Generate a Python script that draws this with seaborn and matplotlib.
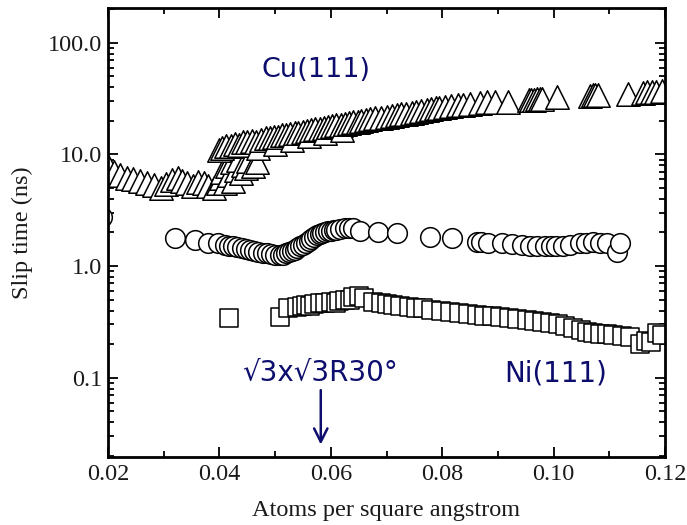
import matplotlib
matplotlib.use("Agg")
import matplotlib.pyplot as plt
import matplotlib.ticker as mticker
import seaborn as sns
import pandas as pd

# ---- data ----
cu_x = [0.0200, 0.0210, 0.0222, 0.0235, 0.0245, 0.0258, 0.0270, 0.0282, 0.0295, 0.0305,
        0.0315, 0.0325, 0.0333, 0.0342, 0.0352, 0.0362, 0.0372, 0.0380, 0.0390, 0.0398,
        0.0402, 0.0405, 0.0410, 0.0413, 0.0418, 0.0422, 0.0425, 0.0430, 0.0433, 0.0438,
        0.0442, 0.0447, 0.0452, 0.0460, 0.0468,
        0.0400, 0.0405, 0.0412, 0.0420, 0.0428, 0.0435, 0.0442, 0.0450, 0.0458, 0.0466,
        0.0470, 0.0475, 0.0483, 0.0490, 0.0498, 0.0500, 0.0505, 0.0512, 0.0520, 0.0527,
        0.0530, 0.0535, 0.0542, 0.0550, 0.0557, 0.0560, 0.0565, 0.0572, 0.0580, 0.0588,
        0.0590, 0.0595, 0.0603, 0.0610, 0.0618, 0.0620, 0.0625, 0.0633, 0.0640, 0.0648,
        0.0655, 0.0663, 0.0670, 0.0680, 0.0690, 0.0700, 0.0710, 0.0718, 0.0726, 0.0735,
        0.0745, 0.0753, 0.0762, 0.0772, 0.0780, 0.0788, 0.0795, 0.0805, 0.0815, 0.0828,
        0.0838, 0.0850, 0.0868, 0.0880, 0.0895, 0.0918, 0.0955, 0.0960, 0.0965, 0.0970,
        0.0975, 0.0980, 0.1006, 0.1065, 0.1070, 0.1075, 0.1080, 0.1134, 0.1160, 0.1168,
        0.1176, 0.1184, 0.1195]
cu_y = [7.8, 7.0, 6.5, 6.2, 6.0, 5.8, 5.6, 5.3, 5.0, 5.4,
        5.9, 6.2, 5.8, 5.5, 5.2, 5.7, 5.6, 5.2, 5.0, 5.5,
        6.2, 7.0, 5.5, 7.8, 6.5, 8.5, 5.8, 7.2, 9.0, 6.8,
        8.0, 7.5, 8.8, 7.8, 8.5,
        11.0, 11.5, 12.0, 11.8, 12.5, 12.2, 12.8, 13.0, 13.2, 13.0,
        11.5, 13.6, 13.9, 14.0, 14.4, 12.5, 14.2, 14.8, 15.0, 15.2,
        13.5, 15.6, 15.5, 16.0, 16.3, 14.5, 16.5, 16.8, 17.0, 17.4,
        15.5, 17.6, 17.8, 18.2, 18.5, 16.5, 18.7, 19.0, 19.4, 19.6,
        20.0, 20.3, 20.6, 21.0, 21.3, 21.8, 22.2, 22.5, 22.8, 23.2,
        23.6, 24.0, 24.5, 25.0, 25.3, 25.8, 26.0, 26.5, 27.0, 27.5,
        28.0, 28.5, 29.0, 29.3, 29.5, 29.6, 30.5, 30.8, 31.0, 31.2,
        31.4, 31.6, 32.8, 33.5, 33.8, 34.0, 34.2, 35.0, 35.5, 36.0,
        36.2, 36.5, 37.0]

circ_x = [0.0190, 0.0320, 0.0356, 0.0380, 0.0398, 0.0410, 0.0418, 0.0425, 0.0432, 0.0440,
          0.0447, 0.0455, 0.0462, 0.0470, 0.0478, 0.0485, 0.0492, 0.0500, 0.0508, 0.0515,
          0.0520, 0.0525, 0.0530, 0.0535, 0.0540, 0.0545, 0.0550, 0.0555, 0.0560, 0.0565,
          0.0570, 0.0575, 0.0580, 0.0585, 0.0590, 0.0595, 0.0600, 0.0605, 0.0610, 0.0617,
          0.0625, 0.0632, 0.0640, 0.0652, 0.0685, 0.0719, 0.0778, 0.0818, 0.0862, 0.0870,
          0.0882, 0.0907, 0.0925, 0.0943, 0.0958, 0.0970, 0.0985, 0.0995, 0.1005, 0.1017,
          0.1030, 0.1047, 0.1058, 0.1070, 0.1083, 0.1096, 0.1114, 0.1120]
circ_y = [2.75, 1.78, 1.72, 1.62, 1.60, 1.56, 1.52, 1.50, 1.47, 1.45,
          1.42, 1.40, 1.37, 1.35, 1.32, 1.30, 1.28, 1.27, 1.26, 1.27,
          1.30, 1.33, 1.36, 1.40, 1.45, 1.50, 1.55, 1.62, 1.68, 1.75,
          1.82, 1.88, 1.93, 1.97, 2.00, 2.05, 2.08, 2.10, 2.12, 2.15,
          2.18, 2.20, 2.20, 2.05, 2.00, 1.98, 1.84, 1.78, 1.66, 1.65,
          1.62, 1.60, 1.57, 1.55, 1.50, 1.52, 1.50, 1.50, 1.52, 1.52,
          1.55, 1.60, 1.62, 1.65, 1.62, 1.60, 1.33, 1.60]

ni_x = [0.0417, 0.0509, 0.0523, 0.0540, 0.0548, 0.0555, 0.0562, 0.0570, 0.0580, 0.0590,
        0.0600, 0.0610, 0.0615, 0.0625, 0.0635, 0.0640, 0.0650, 0.0660, 0.0676, 0.0690,
        0.0700, 0.0712, 0.0725, 0.0740, 0.0753, 0.0766, 0.0780, 0.0797, 0.0814, 0.0830,
        0.0846, 0.0862, 0.0875, 0.0890, 0.0904, 0.0920, 0.0935, 0.0952, 0.0965, 0.0980,
        0.0993, 0.1008, 0.1020, 0.1035, 0.1050, 0.1060, 0.1070, 0.1083, 0.1095, 0.1107,
        0.1122, 0.1137, 0.1155, 0.1165, 0.1175, 0.1185, 0.1195]
ni_y = [0.342, 0.350, 0.420, 0.430, 0.440, 0.450, 0.440, 0.460, 0.470, 0.470,
        0.480, 0.470, 0.490, 0.500, 0.500, 0.527, 0.540, 0.520, 0.475, 0.470,
        0.460, 0.447, 0.440, 0.430, 0.425, 0.420, 0.405, 0.395, 0.387, 0.380,
        0.370, 0.364, 0.360, 0.355, 0.350, 0.342, 0.335, 0.330, 0.322, 0.315,
        0.310, 0.300, 0.290, 0.278, 0.268, 0.258, 0.250, 0.248, 0.245, 0.240,
        0.235, 0.230, 0.200, 0.215, 0.210, 0.250, 0.240]

y_ticks = [0.1, 1.0, 10.0, 100.0]
y_tick_labels = ["0.1", "1.0", "10.0", "100.0"]
x_ticks = [0.02, 0.04, 0.06, 0.08, 0.10, 0.12]
x_tick_labels = ["0.02", "0.04", "0.06", "0.08", "0.10", "0.12"]

cu_df = pd.DataFrame({"x": cu_x, "y": cu_y})
circ_df = pd.DataFrame({"x": circ_x, "y": circ_y})
ni_df = pd.DataFrame({"x": ni_x, "y": ni_y})

sns.set_style("ticks")
plt.rcParams["font.family"] = ["Liberation Serif", "DejaVu Serif"]

fig = plt.figure(figsize=(6.87, 5.25), dpi=100)
ax = fig.add_axes([108/687, 1-457/525, (665-108)/687, (457-8)/525])

common = dict(ax=ax, x="x", y="y", color="white", edgecolor="black", linewidth=1.1, legend=False)
sns.scatterplot(data=circ_df, marker="o", s=200, **common)
sns.scatterplot(data=ni_df, marker="s", s=155, **common)
sns.scatterplot(data=cu_df, marker="^", s=285, **common)

ax.set_yscale("log")
ax.set_xlim(0.02, 0.12)
ax.set_ylim(0.0195, 205)
ax.set_xticks(x_ticks)
ax.set_xticklabels(x_tick_labels)
ax.xaxis.set_minor_locator(mticker.MultipleLocator(0.01))
ax.set_yticks(y_ticks)
ax.set_yticklabels(y_tick_labels)
ax.yaxis.set_minor_locator(mticker.LogLocator(base=10, subs=range(2, 10)))
ax.yaxis.set_minor_formatter(mticker.NullFormatter())

ax.tick_params(which="both", direction="in", top=True, right=True, width=1.3, colors="black",
               labelsize=17.5, labelcolor="#1a1a1a")
ax.tick_params(which="major", length=7)
ax.tick_params(which="minor", length=4)
ax.tick_params(axis="x", pad=5)
ax.tick_params(axis="y", pad=4)
for sp in ax.spines.values():
    sp.set_visible(True)
    sp.set_linewidth(2.0)
    sp.set_color("black")

ax.set_xlabel("Atoms per square angstrom", fontsize=17.5, color="#1a1a1a", labelpad=11)
ax.set_ylabel("Slip time (ns)", fontsize=17.5, color="#1a1a1a", labelpad=11)

navy = "#0d0d6e"
afont = ["DejaVu Sans"]
ax.text(0.0573, 57, "Cu(111)", color=navy, fontsize=19.5, ha="center", va="center", family=afont)
ax.text(0.0581, 0.11, "√3x√3R30°", color=navy, fontsize=20, ha="center", va="center", family=afont)
ax.text(0.1003, 0.11, "Ni(111)", color=navy, fontsize=20, ha="center", va="center", family=afont)
ax.annotate("", xy=(0.0582, 0.0238), xytext=(0.0582, 0.082),
            arrowprops=dict(arrowstyle="->", color=navy, lw=1.8, mutation_scale=24))

fig.savefig("out.png", dpi=100)
